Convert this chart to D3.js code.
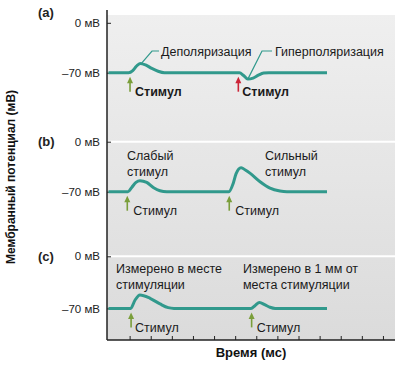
<!DOCTYPE html>
<html><head><meta charset="utf-8">
<script src="https://cdn.jsdelivr.net/npm/d3@7"></script>
<style>body{margin:0;background:#fff}svg{display:block;font-family:"Liberation Sans",Arial,sans-serif}</style>
</head><body><svg id="c" width="400" height="366"></svg>
<script>
// ---- data ----
const panelLabels = ["(a)", "(b)", "(c)"];
const yTickValues = [0, -70];
const yTickLabels = ["0 мВ", "–70 мВ"];
const timeTicks = [1, 2, 3, 4, 5, 6, 7, 8, 9, 10, 11, 12, 13];
const xTitle = "Время (мс)";
const yTitle = "Мембранный потенциал (мВ)";

// panel (a): depolarization then hyperpolarization
const traceA_t = [0, 0.95, 1.15, 1.32, 1.5, 1.75, 2.05, 2.35, 2.65, 6.2, 6.4, 6.6, 6.85, 7.1, 7.35, 7.6, 10.35];
const traceA_v = [-70, -70, -67, -61, -57, -59, -64, -68, -70, -70, -74, -79, -77.5, -73.5, -70.5, -70, -70];
// panel (b): weak and strong stimulus
const traceB_t = [0, 0.92, 1.1, 1.3, 1.49, 1.81, 2.12, 2.44, 2.76, 5.7, 5.91, 6.04, 6.28, 6.5, 6.7, 7.18, 7.65, 8.12, 8.45, 10.35];
const traceB_v = [-70, -70, -64, -57, -54.6, -57, -64, -68.6, -70, -70, -58, -45, -36.5, -40, -44, -56, -65, -69, -70, -70];
// panel (c): at stimulation site and 1 mm away
const traceC_t = [0, 1.05, 1.26, 1.49, 1.97, 2.44, 2.83, 3.1, 6.75, 6.95, 7.15, 7.4, 7.65, 7.9, 10.35];
const traceC_v = [-70, -70, -58.7, -52, -56.4, -64, -69, -70, -70, -66, -62, -65, -68.5, -70, -70];

const stimA = [1.02, 6.15];
const stimB = [0.89, 5.72];
const stimC = [1.07, 6.78];

// ---- layout ----
const svg = d3.select("#c");
const teal = "#31998c", green = "#7a9e3a", red = "#cc2437";
const x = d3.scaleLinear().domain([0, 13.5]).range([108.5, 393.5]);
const panelRanges = [[22.8, 72.7], [141.7, 191.7], [256.3, 308.4]];
const ys = panelRanges.map(r => d3.scaleLinear().domain([0, -70]).range(r));
const axisX = 107, axisRight = 395, axisBottomY = 340;

const defs = svg.append("defs");
const grad = defs.append("linearGradient").attr("id", "bg").attr("x1", 0).attr("y1", 0).attr("x2", 0).attr("y2", 1);
grad.append("stop").attr("offset", "0%").attr("stop-color", "#efefef");
grad.append("stop").attr("offset", "100%").attr("stop-color", "#dbdbdb");
svg.append("rect").attr("x", axisX).attr("y", 15).attr("width", axisRight - axisX).attr("height", axisBottomY - 15).attr("fill", "url(#bg)");

// separators at 0 mV of panels b and c
[1, 2].forEach(i => {
  svg.append("line").attr("x1", axisX).attr("x2", axisRight)
    .attr("y1", ys[i](0)).attr("y2", ys[i](0)).attr("stroke", "#fff").attr("stroke-width", 2);
});

// y axes per panel
ys.forEach((y, i) => {
  const g = svg.append("g").attr("transform", `translate(${axisX},0)`)
    .call(d3.axisLeft(y).tickValues(yTickValues).tickSize(-4).tickPadding(7)
      .tickFormat((d, j) => yTickLabels[j]));
  g.select(".domain").remove();
  g.selectAll("text").attr("font-size", 11.5).attr("fill", "#222").attr("font-family", "Liberation Sans, Arial, sans-serif");
  g.selectAll("line").attr("stroke", "#222");
  svg.append("text").attr("x", 38).attr("y", [17, 146, 261][i]).attr("font-size", 13).attr("font-weight", "bold")
    .attr("fill", "#222").text(panelLabels[i]);
});
svg.append("line").attr("x1", axisX).attr("x2", axisX).attr("y1", 10).attr("y2", axisBottomY).attr("stroke", "#222").attr("stroke-width", 1.5);

// x axis
const gx = svg.append("g").attr("transform", `translate(0,${axisBottomY})`)
  .call(d3.axisBottom(x).tickValues(timeTicks).tickSize(-4).tickFormat(""));
gx.select(".domain").remove();
gx.selectAll("line").attr("stroke", "#222");
svg.append("line").attr("x1", axisX).attr("x2", axisRight).attr("y1", axisBottomY).attr("y2", axisBottomY).attr("stroke", "#222").attr("stroke-width", 1.5);

svg.append("text").attr("x", 251).attr("y", 357).attr("text-anchor", "middle").attr("font-size", 13).attr("font-weight", "bold").attr("fill", "#111").text(xTitle);
svg.append("text").attr("transform", "translate(15,177) rotate(-90)").attr("text-anchor", "middle").attr("font-size", 12).attr("font-weight", "bold").attr("fill", "#111").text(yTitle);

// traces
const traces = [[traceA_t, traceA_v], [traceB_t, traceB_v], [traceC_t, traceC_v]];
traces.forEach(([ts, vs], i) => {
  const pts = ts.map((t, k) => [t, vs[k]]);
  const line = d3.line().x(d => x(d[0])).y(d => ys[i](d[1])).curve(d3.curveMonotoneX);
  svg.append("path").attr("d", line(pts)).attr("fill", "none").attr("stroke", teal).attr("stroke-width", 3);
});

// arrows
function arrow(t, i, color) {
  const ax = x(t), tip = ys[i](-70) + 4, bottom = tip + 15;
  svg.append("line").attr("x1", ax).attr("x2", ax).attr("y1", tip + 5).attr("y2", bottom).attr("stroke", color).attr("stroke-width", 1.6);
  svg.append("path").attr("d", `M${ax},${tip}L${ax - 3},${tip + 6.5}L${ax + 3},${tip + 6.5}Z`).attr("fill", color);
}
arrow(stimA[0], 0, green); arrow(stimA[1], 0, red);
arrow(stimB[0], 1, green); arrow(stimB[1], 1, green);
arrow(stimC[0], 2, green); arrow(stimC[1], 2, green);

function label(px, py, str, bold) {
  svg.append("text").attr("x", px).attr("y", py).attr("font-size", 12.5).attr("font-weight", bold ? "bold" : "normal").attr("fill", "#1a1a1a").text(str);
}
// stimulus labels
label(x(stimA[0]) + 5, ys[0](-70) + 23.5, "Стимул", true);
label(x(stimA[1]) + 4, ys[0](-70) + 23.5, "Стимул", true);
label(x(stimB[0]) + 6, ys[1](-70) + 23, "Стимул", false);
label(x(stimB[1]) + 6, ys[1](-70) + 23, "Стимул", false);
label(x(stimC[0]) + 4, ys[2](-70) + 23.5, "Стимул", false);
label(x(stimC[1]) + 5, ys[2](-70) + 23.5, "Стимул", false);

// annotations panel a with leader lines
const leaderA = [[1.53, -58], [2.06, -70 * (51 - 22.8) / 50]];
function leader(pPeak, yPeakPx, xElbow, yLine, xEnd) {
  svg.append("path").attr("d", `M${pPeak},${yPeakPx}L${xElbow},${yLine}L${xEnd},${yLine}`)
    .attr("fill", "none").attr("stroke", teal).attr("stroke-width", 1.2);
}
leader(x(1.53), ys[0](-58), 152, 51, 159);
label(161, 55.5, "Деполяризация", false);
leader(x(6.6), ys[0](-79), 262, 51, 272);
label(275, 55.5, "Гиперполяризация", false);

// panel b labels
label(127, 160, "Слабый", false); label(127, 176, "стимул", false);
label(265, 160, "Сильный", false); label(265, 176, "стимул", false);
// panel c labels
label(116, 273, "Измерено в месте", false); label(116, 289, "стимуляции", false);
label(243, 273, "Измерено в 1 мм от", false); label(243, 289, "места стимуляции", false);
</script></body></html>
